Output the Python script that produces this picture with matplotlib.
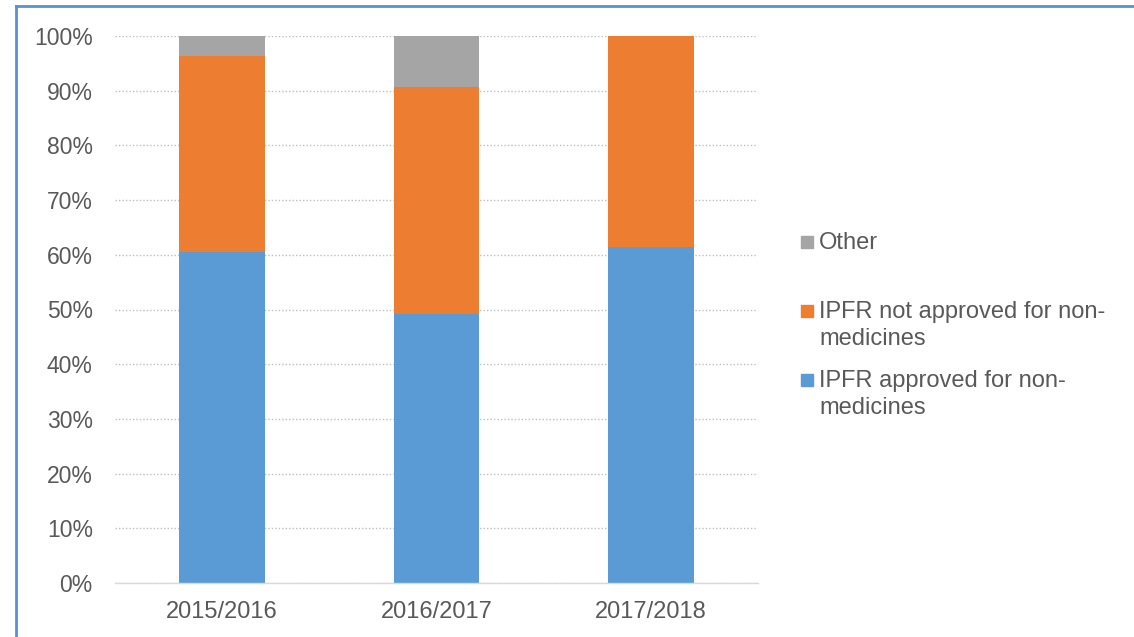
import matplotlib.pyplot as plt
from matplotlib.patches import Rectangle
from matplotlib.lines import Line2D
import numpy as np

plt.rcParams['font.family'] = ['Liberation Sans', 'DejaVu Sans']

#values (percent of requests)
years = ['2015/2016', '2016/2017', '2017/2018']
approved = [60.5, 49.2, 61.4]
notApproved = [35.8, 41.5, 38.6]
other = [3.7, 9.3, 0.0]
labels = [['Other'],
          ['IPFR not approved for non-', 'medicines'],
          ['IPFR approved for non-', 'medicines']]

blue = '#5B9BD5'
orange = '#ED7D31'
grey = '#A5A5A5'
textColor = '#595959'

W, H = 1134, 637
fig = plt.figure(figsize=(W/100., H/100.), dpi=100)
ax = fig.add_axes([115./W, 1-583./H, 643./W, 547./H])

x = np.arange(len(years))
approved = np.array(approved)
notApproved = np.array(notApproved)
other = np.array(other)
ax.bar(x, approved, width=0.4, color=blue, zorder=2)
ax.bar(x, notApproved, width=0.4, bottom=approved, color=orange, zorder=2)
ax.bar(x, other, width=0.4, bottom=approved+notApproved, color=grey, zorder=2)

ax.set_xlim(-0.5, 2.5)
ax.set_ylim(0, 100)
ax.set_yticks(np.arange(0, 101, 10))
ax.set_yticklabels(['{}%'.format(v) for v in range(0, 101, 10)])
ax.set_xticks(x)
ax.set_xticklabels(years)
ax.yaxis.grid(True, color='#BFBFBF', linestyle=(0, (1, 1.5)), linewidth=1.0, zorder=0)
for s in ['top', 'right', 'left']:
    ax.spines[s].set_visible(False)
ax.spines['bottom'].set_color('#D9D9D9')
ax.spines['bottom'].set_linewidth(1.0)
ax.tick_params(axis='both', length=0, colors=textColor)
ax.tick_params(axis='y', pad=16, labelsize=16.5)
ax.tick_params(axis='x', pad=13, labelsize=17)

#legend drawn by hand so the markers line up with the first line of text
legColors = [grey, orange, blue]
legBaseline = [249, 318, 387]
for c, y, lines in zip(legColors, legBaseline, labels):
    fig.patches.append(Rectangle((801./W, 1-(y-1.)/H), 12./W, 12./H,
                                 transform=fig.transFigure, color=c))
    for i, line in enumerate(lines):
        fig.text(819./W, 1-(y+27.*i)/H, line, fontsize=17, color=textColor,
                 va='baseline', ha='left')

#border on the top and left edges
fig.lines.append(Line2D([15.5/W, 15.5/W], [0, 1-6./H], transform=fig.transFigure,
                        color='#5B8FD8', linewidth=2))
fig.lines.append(Line2D([15.5/W, 1], [1-6./H, 1-6./H], transform=fig.transFigure,
                        color='#5B8FD8', linewidth=2))

fig.savefig('out.png', dpi=100)
